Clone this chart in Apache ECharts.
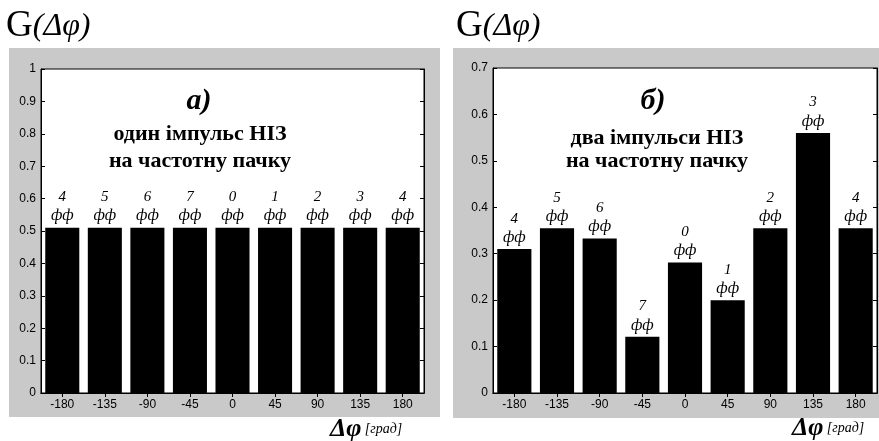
<!DOCTYPE html>
<html>
<head>
<meta charset="utf-8">
<script src="https://cdn.jsdelivr.net/npm/echarts/dist/echarts.min.js"></script>
<style>
  html, body { margin: 0; padding: 0; background: #fff; }
  #chart { width: 879px; height: 441px; }
</style>
</head>
<body>
<div id="chart"></div>
<script>
// кути (град)
const categories = ['-180', '-135', '-90', '-45', '0', '45', '90', '135', '180']
// номери фаз над стовпцями
const phaseLabels = ['4', '5', '6', '7', '0', '1', '2', '3', '4']
// а) один імпульс НІЗ
const valuesA = [0.51, 0.51, 0.51, 0.51, 0.51, 0.51, 0.51, 0.51, 0.51]
// б) два імпульси НІЗ
const valuesB = [0.31, 0.355, 0.333, 0.121, 0.281, 0.2, 0.355, 0.56, 0.355]
const yMaxA = 1
const yMaxB = 0.7
const yStep = 0.1

const serif = "'Liberation Serif', 'DejaVu Serif', serif"
const sans = "'Liberation Sans', Arial, sans-serif"

const chart = echarts.init(document.getElementById('chart'))

const xAxisBottom = (gridIndex) => ({
  type: 'category',
  gridIndex: gridIndex,
  data: categories,
  boundaryGap: true,
  axisLine: { show: true, lineStyle: { color: '#000', width: 1 } },
  axisTick: { show: true, inside: true, alignWithLabel: true, length: 4, lineStyle: { color: '#000' } },
  axisLabel: { color: '#000', fontFamily: sans, fontSize: 12, margin: 6 },
  splitLine: { show: false }
})
const xAxisTop = (gridIndex) => ({
  type: 'category',
  gridIndex: gridIndex,
  position: 'top',
  data: categories,
  boundaryGap: true,
  axisLine: { show: true, lineStyle: { color: '#000', width: 1 } },
  axisTick: { show: true, inside: true, alignWithLabel: true, length: 4, lineStyle: { color: '#000' } },
  axisLabel: { show: false },
  splitLine: { show: false }
})
const yAxisLeft = (gridIndex, max) => ({
  type: 'value',
  gridIndex: gridIndex,
  min: 0,
  max: max,
  interval: yStep,
  axisLine: { show: true, lineStyle: { color: '#000', width: 1 } },
  axisTick: { show: true, inside: true, length: 4, lineStyle: { color: '#000' } },
  axisLabel: {
    color: '#000', fontFamily: sans, fontSize: 12, margin: 5,
    formatter: (v) => String(Math.round(v * 10) / 10)
  },
  splitLine: { show: false }
})
const yAxisRight = (gridIndex, max) => ({
  type: 'value',
  gridIndex: gridIndex,
  position: 'right',
  min: 0,
  max: max,
  interval: yStep,
  axisLine: { show: true, lineStyle: { color: '#000', width: 1 } },
  axisTick: { show: true, inside: true, length: 4, lineStyle: { color: '#000' } },
  axisLabel: { show: false },
  splitLine: { show: false }
})

const barSeries = (name, values, xIdx, yIdx) => ({
  name: name,
  type: 'bar',
  xAxisIndex: xIdx,
  yAxisIndex: yIdx,
  data: values,
  barWidth: '80%',
  itemStyle: { color: '#000' },
  label: {
    show: true,
    position: 'top',
    distance: 2,
    formatter: (p) => '{n|' + phaseLabels[p.dataIndex] + '}\n{f|фф}',
    rich: {
      n: { fontFamily: serif, fontStyle: 'italic', fontSize: 15, lineHeight: 19, color: '#000', align: 'center' },
      f: { fontFamily: serif, fontStyle: 'italic', fontSize: 16, lineHeight: 19, color: '#000', align: 'center' }
    }
  }
})

const titleRich = {
  g: { fontFamily: serif, fontSize: 37, fontWeight: 'normal', color: '#000' },
  p: { fontFamily: serif, fontSize: 32, fontWeight: 'normal', fontStyle: 'italic', color: '#000' }
}
const axisNameRich = {
  d: { fontFamily: serif, fontSize: 26, fontWeight: 'bold', fontStyle: 'italic', color: '#000' },
  u: { fontFamily: serif, fontSize: 14, fontStyle: 'italic', color: '#000' }
}
const noteFont = "bold 22px 'Liberation Serif'"
const letterFont = "italic bold 30px 'Liberation Serif'"

const option = {
  backgroundColor: '#fff',
  animation: false,
  title: [
    { text: '{g|G}{p|(Δφ)}', left: 1, top: 3, textStyle: { fontWeight: 'normal', rich: titleRich } },
    { text: '{g|G}{p|(Δφ)}', left: 451, top: 3, textStyle: { fontWeight: 'normal', rich: titleRich } }
  ],
  grid: [
    { left: 41, top: 69, right: 455, bottom: 48, show: true, backgroundColor: '#fff', borderColor: '#000', borderWidth: 1 },
    { left: 493, top: 68, right: 2, bottom: 48, show: true, backgroundColor: '#fff', borderColor: '#000', borderWidth: 1 }
  ],
  xAxis: [xAxisBottom(0), xAxisTop(0), xAxisBottom(1), xAxisTop(1)],
  yAxis: [yAxisLeft(0, yMaxA), yAxisRight(0, yMaxA), yAxisLeft(1, yMaxB), yAxisRight(1, yMaxB)],
  series: [
    barSeries('а', valuesA, 0, 0),
    barSeries('б', valuesB, 2, 2)
  ],
  graphic: [
    // сірі підкладки
    { type: 'rect', z: -10, silent: true, shape: { x: 9, y: 48, width: 431, height: 369 }, style: { fill: '#c9c9c9' } },
    { type: 'rect', z: -10, silent: true, shape: { x: 453, y: 48, width: 426, height: 370 }, style: { fill: '#c9c9c9' } },
    // підписи всередині
    { type: 'text', z: 10, style: { text: 'а)', x: 199, y: 101, textAlign: 'center', textVerticalAlign: 'middle', font: letterFont, fill: '#000' } },
    { type: 'text', z: 10, style: { text: 'один імпульс НІЗ', x: 200, y: 134, textAlign: 'center', textVerticalAlign: 'middle', font: noteFont, fill: '#000' } },
    { type: 'text', z: 10, style: { text: 'на частотну пачку', x: 200, y: 161, textAlign: 'center', textVerticalAlign: 'middle', font: noteFont, fill: '#000' } },
    { type: 'text', z: 10, style: { text: 'б)', x: 653, y: 101, textAlign: 'center', textVerticalAlign: 'middle', font: letterFont, fill: '#000' } },
    { type: 'text', z: 10, style: { text: 'два імпульси НІЗ', x: 657, y: 138, textAlign: 'center', textVerticalAlign: 'middle', font: noteFont, fill: '#000' } },
    { type: 'text', z: 10, style: { text: 'на частотну пачку', x: 657, y: 161, textAlign: 'center', textVerticalAlign: 'middle', font: noteFont, fill: '#000' } },
    // назви осі x
    { type: 'text', z: 10, style: { text: '{d|Δφ} {u|[град]}', x: 330, y: 429, textVerticalAlign: 'middle', rich: axisNameRich } },
    { type: 'text', z: 10, style: { text: '{d|Δφ} {u|[град]}', x: 792, y: 428, textVerticalAlign: 'middle', rich: axisNameRich } }
  ]
}

chart.setOption(option)
</script>
</body>
</html>
